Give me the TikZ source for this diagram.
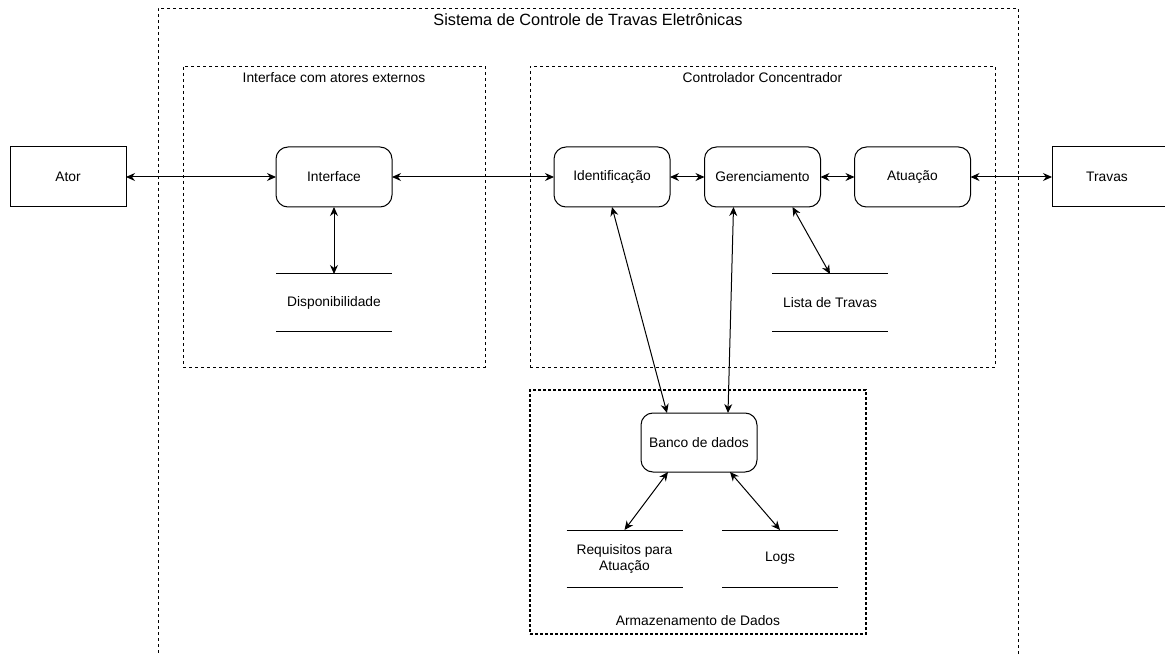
\documentclass[tikz,border=0pt]{standalone}
\usepackage{fontspec}
\setmainfont{Liberation Sans}
\usetikzlibrary{arrows.meta}
\begin{document}
\begin{tikzpicture}[x=1pt,y=-1pt,
  every node/.style={font=\fontsize{13.8}{16}\selectfont, inner sep=0pt, outer sep=0pt},
  proc/.style={draw, line width=1pt, rounded corners=12pt, minimum width=116pt, minimum height=60pt},
  ext/.style={draw, line width=1pt, minimum width=116pt, minimum height=60pt},
  store/.style={minimum width=116pt, minimum height=57pt, align=center},
  storeline/.style={line width=1pt},
  grp/.style={draw, line width=0.8pt, dash pattern=on 3pt off 3pt, minimum width=#1},
  flow/.style={line width=1pt, {Stealth[length=9pt,width=8pt]}-{Stealth[length=9pt,width=8pt]}}
]
\path[use as bounding box] (0,0) rectangle (1165,655);
\clip (0,0) rectangle (1165,655);

% system boundary and sub-system groups
\node[grp=860pt, minimum height=692pt] (sys) at (588,354) {};
\node[font=\fontsize{16.3}{18}\selectfont] (sysT) at (588,20) {Sistema de Controle de Travas Eletrônicas};

\node[grp=302pt, minimum height=301pt] (gIf) at (334,216.5) {};
\node (gIfT) at (334,78) {Interface com atores externos};

\node[grp=465pt, minimum height=301pt] (gCc) at (762.5,216.5) {};
\node (gCcT) at (762.5,78) {Controlador Concentrador};

\node[draw, line width=1.1pt, dash pattern=on 3pt off 2pt, minimum width=336pt, minimum height=244pt] (gDb) at (698,512) {};
\node (gDbT) at (698,621) {Armazenamento de Dados};

% external entities
\node[ext] (ator) at (68,177) {Ator};
\node[ext] (travas) at (1110,177) {\hspace*{-6pt}Travas};

% processes
\node[proc] (iface) at (334,177) {Interface};
\node[proc] (ident) at (612,177) {Identificação};
\node[proc] (geren) at (762.5,177) {Gerenciamento};
\node[proc] (atua) at (912.5,177) {Atuação};
\node[proc, minimum height=59pt] (banco) at (699,442.5) {Banco de dados};

% data stores
\node[store] (disp) at (334,302.5) {Disponibilidade};
\node[store] (lista) at (830,302.5) {Lista de Travas};
\node[store] (req) at (624.5,558.5) {Requisitos para\\Atuação};
\node[store] (logs) at (780,558.5) {Logs};
\foreach \s in {disp,lista,req,logs}{
  \draw[storeline] (\s.north west) -- (\s.north east);
  \draw[storeline] (\s.south west) -- (\s.south east);
}

% data flows
\draw[flow] (ator.east) -- (iface.west);
\draw[flow] (iface.east) -- (ident.west);
\draw[flow] (ident.east) -- (geren.west);
\draw[flow] (geren.east) -- (atua.west);
\draw[flow] (atua.east) -- (travas.west);
\draw[flow] (iface.south) -- (disp.north);
\draw[flow] (ident.south) -- ([xshift=-32pt]banco.north);
\draw[flow] ([xshift=-29pt]geren.south) -- ([xshift=29pt]banco.north);
\draw[flow] ([xshift=30pt]geren.south) -- (lista.north);
\draw[flow] ([xshift=-31pt]banco.south) -- (req.north);
\draw[flow] ([xshift=31pt]banco.south) -- (logs.north);
\end{tikzpicture}
\end{document}
